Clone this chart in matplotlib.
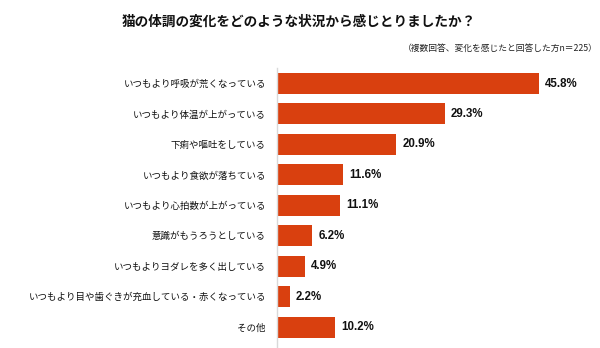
import matplotlib.pyplot as plt

plt.rcParams['font.family'] = ['Noto Sans CJK JP', 'DejaVu Sans']

labels = [
    "いつもより呼吸が荒くなっている",
    "いつもより体温が上がっている",
    "下痢や嘔吐をしている",
    "いつもより食欲が落ちている",
    "いつもより心拍数が上がっている",
    "意識がもうろうとしている",
    "いつもよりヨダレを多く出している",
    "いつもより目や歯ぐきが充血している・赤くなっている",
    "その他",
]
values = [45.8, 29.3, 20.9, 11.6, 11.1, 6.2, 4.9, 2.2, 10.2]

title = "猫の体調の変化をどのような状況から感じとりましたか？"
note = "（複数回答、変化を感じたと回答した方n＝225）"

W, H = 600, 348
fig = plt.figure(figsize=(W / 100, H / 100), dpi=100)
ax = fig.add_axes([277 / W, 0, (592 - 277) / W, (H - 68) / H])

pos = range(len(values))
ax.barh(pos, values, height=0.69, color="#D9400F", edgecolor="none")
for y, v in zip(pos, values):
    ax.text(v + 1.0, y, f"{v:.1f}%", va="center", ha="left",
            fontsize=8.3, fontweight="bold", family="Liberation Sans", color="#111111")

ax.set_xlim(0, 55.1)
ax.set_ylim(8.69, -0.51)
ax.set_yticks(list(pos))
ax.set_yticklabels(labels, fontsize=6.8, color="#111111")
ax.tick_params(axis="y", length=0, pad=8)
ax.set_xticks([])
for s in ["top", "right", "bottom"]:
    ax.spines[s].set_visible(False)
ax.spines["left"].set_color("#D9D9D9")
ax.spines["left"].set_linewidth(1.0)

fig.text(299 / W, 1 - 22 / H, title, ha="center", va="center",
         fontsize=9.8, fontweight="bold", color="#111111")
fig.text(598 / W, 1 - 48 / H, note, ha="right", va="center",
         fontsize=6.3, color="#222222")

fig.savefig("out.png", dpi=100, facecolor="white")
